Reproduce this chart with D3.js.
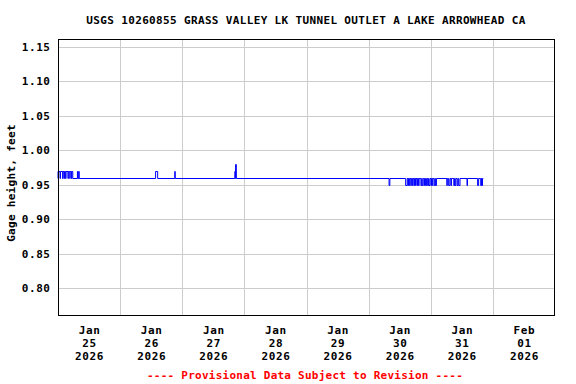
<!DOCTYPE html>
<html>
<head>
<meta charset="utf-8">
<script src="https://cdn.jsdelivr.net/npm/d3@7"></script>
<style>
  body { margin: 0; background: #fff; }
  text { font-family: "DejaVu Sans Mono", "Liberation Mono", monospace; font-weight: bold; }
</style>
</head>
<body>
<script>
var title = "USGS 10260855 GRASS VALLEY LK TUNNEL OUTLET A LAKE ARROWHEAD CA";
var yLabel = "Gage height, feet";
var footer = "---- Provisional Data Subject to Revision ----";

var yTicks = [0.80, 0.85, 0.90, 0.95, 1.00, 1.05, 1.10, 1.15];
var dayTicks = ["2026-01-25", "2026-01-26", "2026-01-27", "2026-01-28",
                "2026-01-29", "2026-01-30", "2026-01-31", "2026-02-01"];

// readings: base level, and runs (hours after Jan 25 00:00) where the gage read otherwise
var baseValue = 0.96;
var seriesEnd = 164.3;
var runStart = [0.0, 0.95, 1.95, 2.5, 3.1, 4.0, 4.7, 5.3, 7.5, 8.0,
                37.7, 45.1, 68.3, 68.6,
                127.9, 134.3, 135.2, 135.7, 136.3, 136.9, 137.5, 138.1, 138.7, 139.3,
                140.2, 140.7, 141.6, 142.1, 142.8, 143.3, 144.1, 144.6, 145.3, 145.8,
                150.2, 150.9, 151.8, 152.9, 153.4, 154.2, 154.8, 158.0, 162.1, 163.3, 163.8];
var runEnd   = [0.8, 1.8, 2.35, 2.95, 3.85, 4.55, 5.15, 5.7, 7.7, 8.2,
                38.5, 45.3, 68.6, 68.9,
                128.2, 134.9, 135.4, 135.9, 136.5, 137.1, 137.7, 138.3, 138.9, 139.5,
                140.5, 141.1, 141.9, 142.4, 143.1, 143.7, 144.3, 144.8, 145.6, 146.2,
                150.4, 151.4, 152.0, 153.2, 153.7, 154.5, 155.3, 158.2, 162.5, 163.6, 164.0];
var runValue = [0.97, 0.97, 0.97, 0.97, 0.97, 0.97, 0.97, 0.97, 0.97, 0.97,
                0.97, 0.97, 0.97, 0.98,
                0.95, 0.95, 0.95, 0.95, 0.95, 0.95, 0.95, 0.95, 0.95, 0.95,
                0.95, 0.95, 0.95, 0.95, 0.95, 0.95, 0.95, 0.95, 0.95, 0.95,
                0.95, 0.95, 0.95, 0.95, 0.95, 0.95, 0.95, 0.95, 0.95, 0.95, 0.95];

var width = 576, height = 384;
var margin = {top: 40, right: 21, bottom: 68, left: 58};
var parse = d3.timeParse("%Y-%m-%d");
var t0 = parse(dayTicks[0]);
var t1 = d3.timeDay.offset(parse(dayTicks[dayTicks.length - 1]), 1);

var svg = d3.select("body").append("svg")
    .attr("width", width)
    .attr("height", height);

var x = d3.scaleTime()
    .domain([t0, t1])
    .range([margin.left, width - margin.right]);
var y = d3.scaleLinear()
    .domain([0.76, 1.16])
    .range([height - margin.bottom, margin.top]);

// grid
svg.append("g").selectAll("line")
    .data(yTicks)
    .enter().append("line")
    .attr("x1", margin.left).attr("x2", width - margin.right)
    .attr("y1", function(d) { return Math.round(y(d)) + 0.5; })
    .attr("y2", function(d) { return Math.round(y(d)) + 0.5; })
    .attr("stroke", "#cccccc");
svg.append("g").selectAll("line")
    .data(dayTicks.slice(1))
    .enter().append("line")
    .attr("x1", function(d) { return Math.round(x(parse(d))) + 0.5; })
    .attr("x2", function(d) { return Math.round(x(parse(d))) + 0.5; })
    .attr("y1", margin.top).attr("y2", height - margin.bottom)
    .attr("stroke", "#cccccc");

// gage height line
var pts = [[0, baseValue]];
runStart.forEach(function(s, i) {
    pts.push([s, runValue[i]]);
    pts.push([runEnd[i], baseValue]);
});
pts.push([seriesEnd, baseValue]);

var line = d3.line()
    .curve(d3.curveStepAfter)
    .x(function(d) { return x(d3.timeMinute.offset(t0, Math.round(d[0] * 60))); })
    .y(function(d) { return Math.round(y(d[1])) + 0.5; });

svg.append("path")
    .datum(pts)
    .attr("d", line)
    .attr("fill", "none")
    .attr("stroke", "#0000ff")
    .attr("stroke-width", 1);

// frame
svg.append("rect")
    .attr("x", margin.left + 0.5).attr("y", margin.top - 0.5)
    .attr("width", width - margin.left - margin.right - 1)
    .attr("height", height - margin.top - margin.bottom)
    .attr("fill", "none")
    .attr("stroke", "#000");

// y tick labels
svg.append("g").selectAll("text")
    .data(yTicks)
    .enter().append("text")
    .attr("x", 50.6)
    .attr("y", function(d) { return y(d) + 4; })
    .attr("text-anchor", "end")
    .attr("font-size", "11px")
    .attr("letter-spacing", "0.6px")
    .text(function(d) { return d3.format(".2f")(d); });

// x tick labels at noon
var fmt = [d3.timeFormat("%b"), d3.timeFormat("%d"), d3.timeFormat("%Y")];
var xl = svg.append("g").selectAll("text")
    .data(dayTicks)
    .enter().append("text")
    .attr("y", 334)
    .attr("text-anchor", "middle")
    .attr("font-size", "11px")
    .attr("letter-spacing", "0.6px");
fmt.forEach(function(f, i) {
    xl.append("tspan")
        .attr("x", function(d) { return x(d3.timeHour.offset(parse(d), 12)) + 0.5; })
        .attr("dy", i === 0 ? 0 : 13)
        .text(function(d) { return f(parse(d)); });
});

svg.append("text")
    .attr("x", 306).attr("y", 24)
    .attr("text-anchor", "middle")
    .attr("font-size", "11px")
    .attr("letter-spacing", "0.35px")
    .text(title);

svg.append("text")
    .attr("transform", "translate(15,183) rotate(-90)")
    .attr("text-anchor", "middle")
    .attr("font-size", "11px")
    .attr("letter-spacing", "0.3px")
    .text(yLabel);

svg.append("text")
    .attr("x", 305).attr("y", 379)
    .attr("text-anchor", "middle")
    .attr("font-size", "11px")
    .attr("letter-spacing", "0.25px")
    .attr("fill", "#ff0000")
    .text(footer);
</script>
</body>
</html>
